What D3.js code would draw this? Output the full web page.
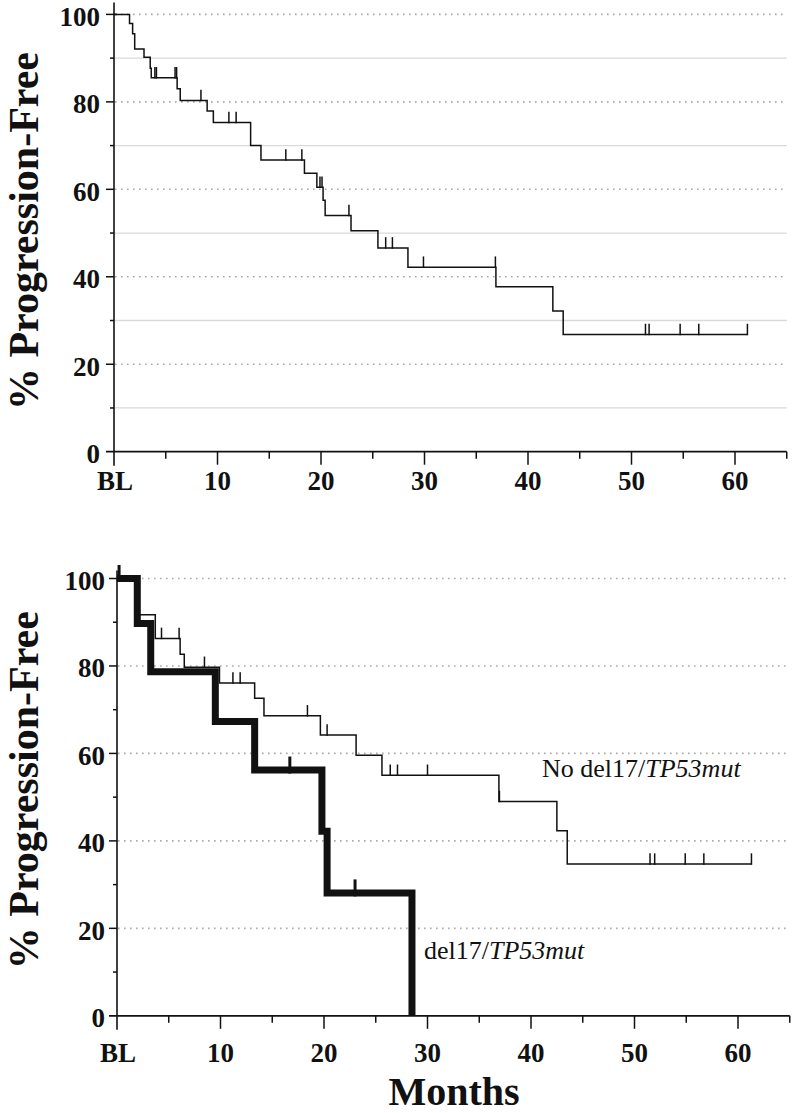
<!DOCTYPE html>
<html>
<head>
<meta charset="utf-8">
<script src="https://cdn.jsdelivr.net/npm/d3@7"></script>
<style>
	body { margin: 0; background: #fff; }
	svg { display: block; }
	text { font-family: "Liberation Serif", "Times New Roman", serif; fill: #111; }
</style>
</head>
<body>
<svg id="chart" width="800" height="1113"></svg>
<script>
// tick labels
const xTickValues = [0, 10, 20, 30, 40, 50, 60]
const xTickLabels = ["BL", "10", "20", "30", "40", "50", "60"]
const yTickValues = [0, 20, 40, 60, 80, 100]

// top panel: all patients (step times in months, % after each drop)
const allTimes = [0, 1.5, 1.8, 2.0, 2.9, 3.5, 3.6, 6.1, 6.4, 9.0, 9.6, 13.2, 14.2, 18.4, 19.6, 20.2, 20.4, 22.9, 25.5, 28.4, 36.9, 42.4, 43.4, 61.2]
const allValues = [100, 97.9, 95.6, 92.1, 90.2, 87.7, 85.5, 83.0, 80.3, 77.9, 75.3, 70.0, 66.7, 63.7, 60.5, 57.5, 54.0, 50.5, 46.6, 42.2, 37.7, 32.2, 26.8, 26.8]
const allCensors = [3.95, 4.1, 5.9, 6.05, 8.4, 11.1, 11.8, 16.6, 18.15, 19.9, 20.1, 22.7, 26.25, 26.9, 29.9, 36.85, 51.35, 51.7, 54.7, 56.5, 61.2]

// bottom panel: no del17/TP53mut
const noDelTimes = [0, 2.0, 3.7, 6.1, 6.5, 9.9, 13.3, 14.2, 19.65, 23.1, 25.6, 36.9, 42.5, 43.5, 61.3]
const noDelValues = [100, 91.7, 86.3, 82.7, 79.7, 76.1, 72.6, 68.6, 64.2, 59.6, 55.0, 49.0, 42.3, 34.7, 34.7]
const noDelCensors = [4.3, 6.0, 8.45, 11.2, 11.9, 18.4, 20.3, 26.4, 27.1, 30.0, 36.95, 51.5, 51.95, 54.9, 56.7, 61.3]

// bottom panel: del17/TP53mut
const delTimes = [0, 1.96, 3.26, 9.5, 13.3, 19.8, 20.3, 28.5]
const delValues = [100, 89.7, 78.7, 67.3, 56.2, 42.2, 28.1, 0]
const delCensors = [0.2, 16.7, 23.0]

const svg = d3.select("#chart")

const drawPanel = (opts) => {
	const x = d3.scaleLinear().domain([0, 65]).range([opts.left, opts.left + 65 * 10.35])
	const y = d3.scaleLinear().domain([0, 100]).range([opts.bottom, opts.bottom - 437.3])
	const g = svg.append("g")

	// grid
	d3.range(10, 101, 10).forEach(v => {
		const major = v % 20 === 0
		if (!major && !opts.oddGrid) return
		g.append("line")
			.attr("x1", x(0) + 1).attr("x2", x(65))
			.attr("y1", y(v)).attr("y2", y(v))
			.attr("stroke", major ? "#aaa" : "#d9d9d9")
			.attr("stroke-width", major ? 1.6 : 1.3)
			.attr("stroke-dasharray", major ? "1.6,4.4" : null)
	})

	// axes
	const axisColor = "#111"
	g.append("line")
		.attr("x1", x(0)).attr("x2", x(0))
		.attr("y1", y(100) - opts.axisTop).attr("y2", y(0) + 14)
		.attr("stroke", axisColor).attr("stroke-width", 1.6)
	g.append("line")
		.attr("x1", x(0) - 8).attr("x2", x(65))
		.attr("y1", y(0)).attr("y2", y(0))
		.attr("stroke", axisColor).attr("stroke-width", 1.8)

	d3.range(5, 66, 5).forEach(t => {
		g.append("line")
			.attr("x1", x(t)).attr("x2", x(t))
			.attr("y1", y(0)).attr("y2", y(0) + (t % 10 === 0 ? 13 : 7))
			.attr("stroke", axisColor).attr("stroke-width", 1.5)
	})
	d3.range(10, 101, 10).forEach(v => {
		g.append("line")
			.attr("x1", x(0) - (v % 20 === 0 ? 8 : 4)).attr("x2", x(0) + (v === 100 ? 3 : 0))
			.attr("y1", y(v)).attr("y2", y(v))
			.attr("stroke", axisColor).attr("stroke-width", 1.5)
	})

	g.selectAll(".ytl").data(yTickValues).enter().append("text")
		.attr("x", x(0) - opts.yLabelGap)
		.attr("y", d => y(d))
		.attr("dy", "0.42em")
		.attr("text-anchor", "end")
		.attr("font-size", 27).attr("font-weight", "bold")
		.text(d => d)

	g.selectAll(".xtl").data(xTickValues).enter().append("text")
		.attr("x", d => x(d) + (d === 0 ? 1 : 0))
		.attr("y", y(0) + opts.xLabelDrop)
		.attr("text-anchor", "middle")
		.attr("font-size", 27).attr("font-weight", "bold")
		.text((d, i) => xTickLabels[i])

	g.append("text")
		.attr("transform", `translate(${opts.yTitleX},${y(50) + opts.yTitleShift}) rotate(-90)`)
		.attr("text-anchor", "middle")
		.attr("font-size", 42).attr("font-weight", "bold")
		.text("% Progression-Free")

	const step = d3.line()
		.x(d => x(d[0]))
		.y(d => y(d[1]))
		.curve(d3.curveStepAfter)

	const valueAt = (times, values, t) => values[d3.bisectRight(times, t) - 1]

	opts.series.forEach(s => {
		const pts = s.times.map((t, i) => [t, s.values[i]])
		g.append("path")
			.attr("d", step(pts))
			.attr("fill", "none")
			.attr("stroke", "#111")
			.attr("stroke-width", s.width)
			.attr("stroke-linejoin", "miter")
		s.censors.forEach(t => {
			const v = valueAt(s.times, s.values, t)
			g.append("line")
				.attr("x1", x(t)).attr("x2", x(t))
				.attr("y1", y(v) + s.width / 2).attr("y2", y(v) - s.width / 2 - 10)
				.attr("stroke", "#111")
				.attr("stroke-width", s.width > 3 ? 3 : 1.5)
		})
	})
	return { x, y, g }
}

drawPanel({
	left: 114, bottom: 451.7, axisTop: 12, oddGrid: true,
	yLabelGap: 14, xLabelDrop: 38, yTitleX: 38, yTitleShift: -2,
	series: [{ times: allTimes, values: allValues, censors: allCensors, width: 1.5 }]
})

const bottomPanel = drawPanel({
	left: 117, bottom: 1015.8, axisTop: 8, oddGrid: false,
	yLabelGap: 12, xLabelDrop: 46, yTitleX: 38, yTitleShift: -7,
	series: [
		{ times: noDelTimes, values: noDelValues, censors: noDelCensors, width: 1.5 },
		{ times: delTimes, values: delValues, censors: delCensors, width: 7 }
	]
})

// curve labels
const noDelLabel = bottomPanel.g.append("text")
	.attr("x", 542).attr("y", 777)
	.attr("font-size", 26)
noDelLabel.append("tspan").text("No del17/")
noDelLabel.append("tspan").attr("font-style", "italic").text("TP53mut")

const delLabel = bottomPanel.g.append("text")
	.attr("x", 424).attr("y", 959)
	.attr("font-size", 26)
delLabel.append("tspan").text("del17/")
delLabel.append("tspan").attr("font-style", "italic").text("TP53mut")

svg.append("text")
	.attr("x", 454).attr("y", 1105)
	.attr("text-anchor", "middle")
	.attr("font-size", 40).attr("font-weight", "bold")
	.text("Months")
</script>
</body>
</html>
